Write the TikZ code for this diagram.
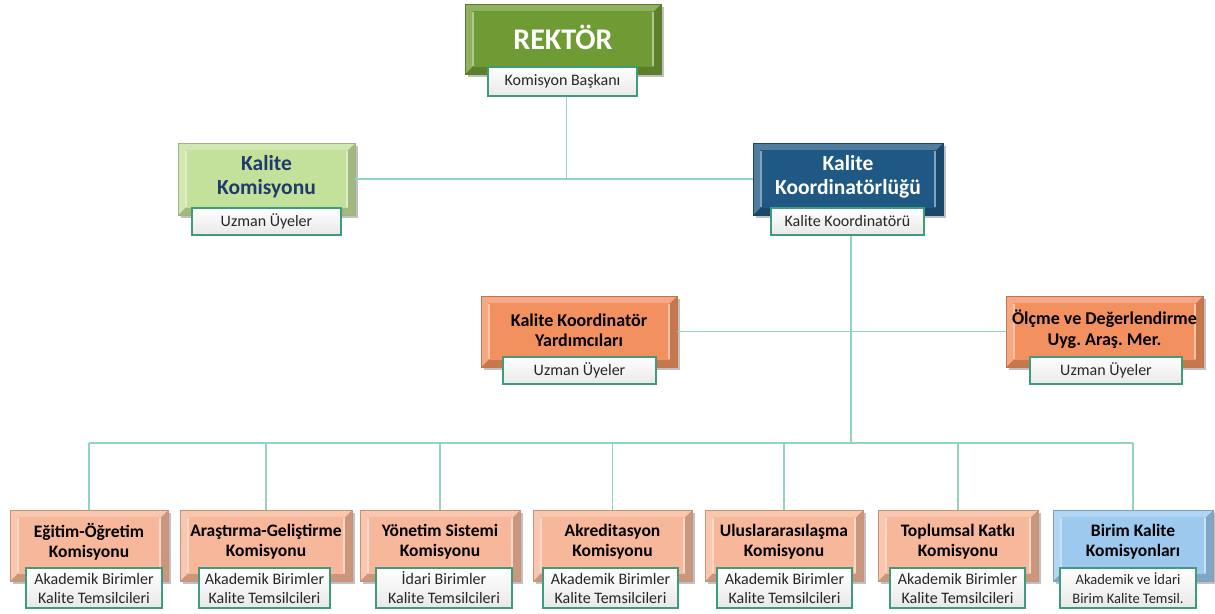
\documentclass[tikz,border=0pt]{standalone}
\usepackage{fontspec}
\setmainfont{Carlito}
\usetikzlibrary{shadows}
\definecolor{cgreen}{HTML}{6F9B35}
\definecolor{clgreen}{HTML}{C4E19C}
\definecolor{cdblue}{HTML}{1F5883}
\definecolor{corange}{HTML}{F2915F}
\definecolor{csalmon}{HTML}{F7B79A}
\definecolor{cblue}{HTML}{9DC9EF}
\definecolor{linec}{HTML}{93D3C3}
\definecolor{subc}{HTML}{3E9C7A}
\definecolor{navyt}{HTML}{1F3A6B}
\frenchspacing
\begin{document}
\begin{tikzpicture}[x=1pt,y=-1pt,
  bevel/.style={draw=#1!80!black, line width=0.6pt, fill=#1, inner sep=0pt,
    drop shadow={shadow xshift=2.5pt,shadow yshift=-2.5pt,opacity=0.35,fill=black!70},
    path picture={
      \fill[#1!82!black] (path picture bounding box.south west) -- (path picture bounding box.south east) -- (path picture bounding box.north east)
        -- ([xshift=-7pt,yshift=-7pt]path picture bounding box.north east) -- ([xshift=-7pt,yshift=7pt]path picture bounding box.south east)
        -- ([xshift=7pt,yshift=7pt]path picture bounding box.south west) -- cycle;
      \fill[#1!78!white] (path picture bounding box.south west) -- (path picture bounding box.north west) -- (path picture bounding box.north east)
        -- ([xshift=-7pt,yshift=-7pt]path picture bounding box.north east) -- ([xshift=7pt,yshift=-7pt]path picture bounding box.north west)
        -- ([xshift=7pt,yshift=7pt]path picture bounding box.south west) -- cycle;
      \fill[#1] ([xshift=7pt,yshift=-7pt]path picture bounding box.north west) rectangle ([xshift=-7pt,yshift=7pt]path picture bounding box.south east);
      \draw[#1!55!white, line width=1.2pt] ([xshift=8pt,yshift=-8pt]path picture bounding box.north west) -- ([xshift=8pt,yshift=8pt]path picture bounding box.south west);
      \draw[#1!55!white, line width=1.2pt] ([xshift=-8pt,yshift=-8pt]path picture bounding box.north east) -- ([xshift=-8pt,yshift=8pt]path picture bounding box.south east);
    }},
  subbox/.style={draw=subc, line width=1.3pt, top color=white, bottom color=black!9, inner sep=0pt,
    text=black!85, align=center, font=\fontsize{16}{19}\selectfont},
  ttl/.style args={#1/#2}{align=center, inner sep=0pt, font=\fontsize{#1}{#2}\selectfont\bfseries},
  conn/.style={draw=linec, line width=1.6pt}
]
\useasboundingbox (0,0) rectangle (1215,613);

\coordinate (busy) at (0,443);
% boxes
\node[bevel=cgreen, minimum width=196pt, minimum height=70pt] (rek) at (563,39) {};
\node[ttl=30/34, text=white] (rekt) at (563,37) {REKTÖR};
\node[subbox, minimum width=149pt, minimum height=29pt] (rsub) at (562.5,81.5) {Komisyon Başkanı};

\node[bevel=clgreen, minimum width=177pt, minimum height=72pt] (kk) at (266.5,179) {};
\node[ttl=21.5/24, text=navyt] (kkt) at (266.5,177) {Kalite\\Komisyonu};
\node[subbox, minimum width=149pt, minimum height=27pt] (kksub) at (266.5,221.5) {Uzman Üyeler};

\node[bevel=cdblue, minimum width=190pt, minimum height=72pt] (kko) at (848,179) {};
\node[ttl=21.5/24, text=white] (kkot) at (848,177) {Kalite\\Koordinatörlüğü};
\node[subbox, minimum width=153pt, minimum height=27pt] (kkosub) at (847.5,221.5) {Kalite Koordinatörü};

\node[bevel=corange, minimum width=196pt, minimum height=71pt] (kky) at (579,331.5) {};
\node[ttl=18/20.5, text=black] (kkyt) at (579,330) {Kalite Koordinatör\\Yardımcıları};
\node[subbox, minimum width=153pt, minimum height=27pt] (kkysub) at (579.5,370.5) {Uzman Üyeler};

\node[bevel=corange, minimum width=197pt, minimum height=71pt] (olc) at (1104.5,331.5) {};
\node[ttl=18/20.5, text=black] (olct) at (1104.5,329) {Ölçme ve Değerlendirme\\Uyg. Araş. Mer.};
\node[subbox, minimum width=152pt, minimum height=27pt] (olcsub) at (1106,370.5) {Uzman Üyeler};

% bottom row
\foreach \n/\cx/\w/\sx/\sw/\col/\t/\s in {
  1/89/158/94/136/csalmon/{Eğitim-Öğretim\\Komisyonu}/{Akademik Birimler\\Kalite Temsilcileri},
  2/266/172/264.5/131/csalmon/{Araştırma-Geliştirme\\Komisyonu}/{Akademik Birimler\\Kalite Temsilcileri},
  3/440/160/444/136/csalmon/{Yönetim Sistemi\\Komisyonu}/{İdari Birimler\\Kalite Temsilcileri},
  4/612.5/159/610.5/135/csalmon/{Akreditasyon\\Komisyonu}/{Akademik Birimler\\Kalite Temsilcileri},
  5/784/158/784.5/135/csalmon/{Uluslararasılaşma\\Komisyonu}/{Akademik Birimler\\Kalite Temsilcileri},
  6/958/160/957.5/135/csalmon/{Toplumsal Katkı\\Komisyonu}/{Akademik Birimler\\Kalite Temsilcileri},
  7/1133/160/1128/136/cblue/{Birim Kalite\\Komisyonları}/{\fontsize{14.5}{19}\selectfont Akademik ve İdari\\\fontsize{14.5}{19}\selectfont Birim Kalite Temsil.}}{
  \node[bevel=\col, minimum width=\w pt, minimum height=71pt] (b\n) at (\cx,545.5) {};
  \node[ttl=17.5/20, text=black] (bt\n) at (\cx,542) {\t};
  \node[subbox, minimum width=\sw pt, minimum height=40pt] (s\n) at (\sx,588) {\s};
}

% connectors
\draw[conn] ([xshift=4pt]rsub.south) -- ([xshift=4pt]rsub.south |- kk.east);
\draw[conn] (kk.east) -- (kko.west);
\draw[conn] ([xshift=3.5pt]kkosub.south) -- ([xshift=3.5pt]kkosub.south |- busy);
\draw[conn] (kky.east) -- (olc.west);
\draw[conn] (b1.north |- busy) -- (b7.north |- busy);
\foreach \n in {1,...,7}{
  \draw[conn] (b\n.north) -- (b\n.north |- busy);
}
\end{tikzpicture}
\end{document}
